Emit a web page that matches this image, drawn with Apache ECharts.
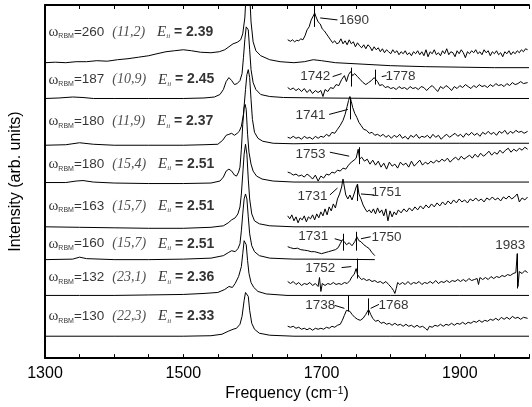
<!DOCTYPE html>
<html><head><meta charset="utf-8">
<script src="https://cdn.jsdelivr.net/npm/echarts@6/dist/echarts.min.js"></script>
<style>html,body{margin:0;padding:0;background:#fff}#c{width:532px;height:407px}</style>
</head><body><div id="c"></div>
<script>
// ---- data (intensity in arb. units, stacked with offset) ----
const majorTicks = [1300, 1500, 1700, 1900];
const rbm = [260, 187, 180, 180, 163, 160, 132, 130];
const chirality = ['(11,2)', '(10,9)', '(11,9)', '(15,4)', '(15,7)', '(15,7)', '(23,1)', '(22,3)'];
const eii = ['2.39', '2.45', '2.37', '2.51', '2.51', '2.51', '2.36', '2.33'];
const peakTexts = ['1690','1742','1778','1741','1753','1731','1751','1731','1750','1752','1983','1738','1768'];
const peakMarks = [1690, 1743, 1778, 1741, 1754, 1751, 1731, 1750, 1752, 1983, 1738, 1768];

const main260 = [[1300,297],[1315,297.5],[1330,297],[1345,298],[1360,298],[1375,299],[1390,298.5],[1405,300],[1420,301],[1435,302.5],[1450,304],[1462,306],[1475,308],[1487,309],[1500,310],[1512,309],[1525,307.5],[1540,307],[1552,308],[1560,310],[1566,313],[1572,316],[1578,317.5],[1583,320],[1586,326],[1589,342],[1592,380],[1595,380],[1598,338],[1601,318],[1605,309],[1612,304],[1625,300],[1640,298],[1660,297],[1675,298],[1688,300],[1700,299],[1720,297],[1760,295.5],[1800,294],[1850,293],[1900,292.5],[1950,292],[2000,292]];
const inset260 = [[1651,320],[1655,318.5],[1658,320],[1661,318],[1664,319.5],[1667,319],[1670,321],[1673,320],[1676,324],[1679,330],[1682,333],[1685,340],[1688,344],[1690,347],[1692,343],[1695,338],[1698,336],[1701,331],[1704,329],[1707,326],[1710,323],[1713,320],[1716,317],[1719,319],[1722,316],[1725,317],[1728,321],[1731,316],[1734,319],[1737,315],[1740,320],[1743,316],[1746,318],[1749,313],[1752,317],[1755,314],[1758,312],[1761,315],[1764,311],[1767,315],[1770,313],[1773,309],[1776,313],[1779,310],[1782,312],[1785,308],[1788,311],[1791,307],[1794,310],[1797,308],[1800,306],[1803,310],[1806,307],[1809,309],[1812,305],[1815,308],[1818,306],[1821,309],[1824,305],[1827,307],[1830,304],[1833,308],[1836,306],[1839,309],[1842,305],[1845,308],[1848,304],[1851,310],[1854,303],[1857,308],[1860,306],[1863,310],[1866,305],[1869,307],[1872,304],[1875,309],[1878,306],[1881,311],[1884,305],[1887,308],[1890,307],[1893,303],[1896,309],[1899,306],[1902,310],[1905,307],[1908,302],[1911,308],[1914,306],[1917,309],[1920,307],[1923,310],[1926,306],[1929,308],[1932,305],[1935,310],[1938,307],[1941,309],[1944,304],[1947,308],[1950,306],[1953,309],[1956,305],[1959,307],[1962,303],[1965,308],[1968,306],[1971,309],[1974,305],[1977,308],[1980,306],[1983,309],[1986,307],[1989,310],[1992,308],[1995,311],[1998,310]];

const main187 = [[1300,261],[1320,261.5],[1340,262.5],[1355,262],[1370,261],[1400,261],[1450,261],[1500,261],[1530,261.5],[1545,262.5],[1553,265],[1558,270],[1562,278],[1566,282],[1570,279],[1574,275],[1578,276],[1582,279],[1585,286],[1587,302],[1589,320],[1591,333],[1592.5,335],[1594,330],[1596,310],[1598,290],[1601,277],[1605,270],[1612,265],[1625,263],[1645,262],[1700,261.5],[1800,261],[1900,261],[2000,261]];
const inset187 = [[1651,272],[1655,270],[1659,271.5],[1663,269],[1667,271],[1671,268],[1675,271],[1679,267],[1683,270],[1687,266],[1691,269],[1695,267],[1699,269],[1702,263],[1705,270],[1709,268],[1713,272],[1717,271],[1721,275],[1725,274],[1729,280],[1733,284],[1736,278],[1739,285],[1742,288],[1745,284],[1748,286],[1752,283],[1756,280],[1760,277],[1764,275],[1768,277],[1772,279],[1776,282],[1778,284],[1781,278],[1784,274],[1788,275],[1792,272],[1796,273],[1800,271],[1804,272],[1808,270],[1812,273],[1816,271],[1820,272],[1824,270],[1828,273],[1832,271],[1836,272],[1840,270],[1844,273],[1848,272],[1852,269],[1856,272],[1860,274],[1864,271],[1868,268],[1872,273],[1876,271],[1880,274],[1884,272],[1888,269],[1892,273],[1896,271],[1900,274],[1904,272],[1908,275],[1912,273],[1916,271],[1920,274],[1924,272],[1928,275],[1932,273],[1936,274],[1940,272],[1944,275],[1948,273],[1952,276],[1956,274],[1960,275],[1964,273],[1968,276],[1972,274],[1976,277],[1980,275],[1984,276],[1988,278],[1992,276],[1998,277]];

const main180a = [[1300,214],[1330,214.5],[1350,216.5],[1370,215],[1400,214],[1450,214],[1500,214],[1530,214.5],[1550,215],[1557,219],[1562,224],[1566,225],[1570,226],[1574,224],[1578,226],[1581,228],[1584,233],[1587,245],[1590,270],[1592,285],[1594,290],[1596,282],[1598,260],[1600,240],[1603,227],[1608,221],[1615,218],[1630,216],[1660,215.5],[1700,216],[1800,216],[1900,216],[2000,216]];
const inset180a = [[1651,222],[1655,221],[1659,223],[1663,221],[1667,222],[1671,220],[1675,223],[1679,221],[1683,222],[1687,220],[1691,223],[1695,221],[1699,223],[1703,222],[1707,225],[1711,223],[1715,227],[1719,226],[1723,230],[1727,234],[1731,239],[1734,245],[1737,253],[1739,259],[1741,263],[1743,258],[1745,252],[1748,246],[1751,242],[1754,237],[1757,234],[1761,230],[1765,229],[1769,226],[1773,227],[1777,224],[1781,225],[1785,223],[1789,225],[1793,222],[1797,224],[1801,221],[1805,224],[1809,222],[1813,225],[1817,221],[1821,223],[1825,220],[1829,224],[1833,222],[1837,225],[1841,221],[1845,223],[1849,222],[1853,224],[1857,221],[1861,225],[1865,222],[1869,224],[1873,220],[1877,223],[1881,225],[1885,222],[1889,224],[1893,226],[1897,223],[1901,225],[1905,222],[1909,226],[1913,224],[1917,227],[1921,224],[1925,226],[1929,223],[1933,227],[1937,225],[1941,228],[1945,225],[1949,227],[1953,224],[1957,228],[1961,226],[1965,229],[1969,225],[1973,228],[1977,226],[1981,229],[1985,227],[1989,228],[1993,226],[1998,228]];

const main180b = [[1300,176.5],[1330,176.5],[1345,178],[1355,178.5],[1370,177],[1400,176],[1450,175.5],[1500,175.5],[1540,176],[1553,178],[1558,182],[1562,188],[1566,190],[1570,188],[1574,184],[1577,183],[1580,187],[1582,192],[1584,210],[1586,235],[1588,252],[1589.5,255],[1591,250],[1593,225],[1595,207],[1598,195],[1601,188],[1606,183],[1614,180],[1630,178],[1660,177],[1700,177],[1800,177],[1900,177],[2000,177]];
const inset180b = [[1651,187],[1655,186],[1659,184],[1663,185],[1667,183],[1671,184],[1675,182],[1679,185],[1683,183],[1687,180],[1691,184],[1695,178],[1699,183],[1703,181],[1707,185],[1711,184],[1715,187],[1719,186],[1723,189],[1727,188],[1731,191],[1735,190],[1739,194],[1743,197],[1747,199],[1750,201],[1753,210],[1755,200],[1758,202],[1762,198],[1766,200],[1770,195],[1774,199],[1778,194],[1782,198],[1786,192],[1790,196],[1794,190],[1798,197],[1802,193],[1806,195],[1810,191],[1814,197],[1818,194],[1822,196],[1826,192],[1830,198],[1834,193],[1838,196],[1842,199],[1846,194],[1850,197],[1854,195],[1858,198],[1862,196],[1866,199],[1870,197],[1874,200],[1878,198],[1882,201],[1886,197],[1890,200],[1894,202],[1898,199],[1902,203],[1906,200],[1910,202],[1914,204],[1918,201],[1922,205],[1926,202],[1930,206],[1934,203],[1938,205],[1942,208],[1946,204],[1950,207],[1954,205],[1958,209],[1962,206],[1966,209],[1970,211],[1974,207],[1978,210],[1982,208],[1986,211],[1990,209],[1994,212],[1998,210]];

const main163 = [[1300,132],[1350,131.5],[1400,131],[1450,130.5],[1500,130.5],[1540,131.5],[1558,133],[1565,136],[1570,139],[1575,141],[1579,145],[1582,152],[1584,165],[1586,185],[1588,205],[1590,215],[1592,205],[1594,180],[1596,160],[1599,145],[1603,138],[1610,135],[1625,133],[1660,132],[1700,132],[1800,132],[1900,132],[2000,132]];
const inset163 = [[1651,143],[1654,140],[1657,144],[1660,138],[1663,142],[1666,136],[1669,141],[1672,139],[1675,143],[1678,137],[1681,142],[1684,140],[1687,144],[1690,139],[1693,145],[1696,141],[1699,147],[1702,143],[1705,150],[1708,144],[1711,152],[1714,148],[1717,155],[1720,151],[1723,160],[1726,165],[1729,172],[1731,180],[1733,172],[1735,164],[1738,160],[1741,164],[1744,159],[1747,165],[1750,172],[1752,175],[1754,165],[1757,160],[1760,154],[1763,150],[1766,147],[1769,149],[1772,146],[1775,150],[1778,145],[1781,151],[1784,146],[1787,149],[1790,143],[1793,150],[1796,138],[1799,148],[1802,142],[1805,147],[1808,144],[1811,149],[1815,146],[1819,150],[1823,147],[1827,151],[1831,148],[1835,152],[1839,149],[1843,153],[1847,150],[1851,154],[1855,151],[1859,155],[1863,152],[1867,156],[1871,153],[1875,157],[1879,154],[1883,158],[1887,155],[1891,159],[1895,156],[1899,160],[1903,157],[1907,159],[1911,156],[1915,160],[1919,158],[1923,161],[1927,158],[1931,160],[1935,157],[1939,161],[1943,159],[1947,162],[1951,159],[1955,161],[1959,158],[1963,162],[1967,160],[1971,163],[1975,160],[1979,162],[1983,165],[1986,157],[1990,161],[1994,159],[1998,162]];

const main160 = [[1300,99],[1340,99.5],[1350,101.5],[1360,100],[1400,99],[1450,99],[1500,99.5],[1540,100.5],[1558,103],[1565,106],[1570,108],[1575,107],[1579,110],[1582,115],[1584,128],[1586,145],[1588,160],[1590,165],[1592,160],[1594,142],[1596,125],[1599,113],[1603,107],[1610,103],[1625,100.5],[1660,99.5],[1700,99.5],[1777,99]];
const inset160 = [[1651,112],[1655,111],[1660,110],[1665,110.5],[1670,109],[1675,108.5],[1680,108],[1685,107],[1690,107],[1695,106],[1700,105],[1705,106],[1710,107],[1715,108],[1720,109],[1724,111],[1727,115],[1730,119],[1733,117],[1736,114],[1740,116],[1744,113],[1748,117],[1751,122],[1754,118],[1757,117],[1761,114],[1765,112],[1769,110],[1773,106],[1777,103]];

const main132 = [[1300,63],[1350,63],[1400,63],[1450,63.5],[1500,64],[1530,65],[1550,66],[1560,69],[1566,72],[1571,71],[1575,75],[1580,82],[1584,92],[1586,105],[1588,118],[1589.5,120],[1591,114],[1593,98],[1595,85],[1598,76],[1602,71],[1608,67],[1620,64.5],[1650,63],[1700,63],[1800,63],[1900,63],[2000,63]];
const inset132 = [[1651,77],[1655,75],[1659,77],[1663,74],[1667,76],[1671,73],[1675,75],[1679,74],[1683,76],[1687,73],[1691,75],[1695,72],[1697,81],[1699,67],[1701,75],[1705,73],[1709,75],[1713,74],[1717,76],[1721,74],[1725,75],[1729,74],[1733,76],[1737,75],[1741,78],[1744,82],[1747,84],[1750,90],[1752,84],[1755,81],[1758,79],[1761,80],[1765,78],[1769,79],[1773,77],[1777,78],[1781,76],[1785,77],[1789,75],[1793,77],[1797,74],[1801,71],[1804,68],[1806,65],[1808,70],[1810,76],[1813,74],[1817,76],[1821,74],[1825,77],[1829,74],[1833,76],[1837,75],[1841,77],[1845,74],[1849,76],[1853,75],[1857,77],[1861,75],[1865,78],[1869,75],[1873,77],[1877,76],[1881,78],[1885,76],[1889,78],[1893,77],[1897,79],[1901,77],[1905,79],[1909,77],[1913,80],[1917,78],[1921,79],[1925,80],[1927,74],[1929,81],[1933,79],[1937,81],[1941,79],[1945,82],[1949,80],[1953,82],[1957,81],[1961,83],[1965,82],[1969,84],[1973,83],[1977,85],[1981,86],[1983,105],[1984,72],[1986,87],[1990,85],[1994,88],[1998,86]];

const main130 = [[1300,22],[1400,22],[1500,22],[1540,22.5],[1556,24],[1565,27],[1572,29],[1577,30],[1582,34],[1585,42],[1588,58],[1590,66],[1592,68],[1594,62],[1596,48],[1599,35],[1603,29],[1610,25],[1625,23],[1660,22],[1800,22],[2000,22]];
const inset130 = [[1651,32],[1655,31],[1659,32],[1663,30],[1667,31],[1671,29],[1675,30],[1679,28.5],[1683,30],[1687,28],[1691,30],[1695,29],[1699,30],[1703,29],[1707,31],[1711,30],[1715,32],[1719,31],[1723,33],[1727,34],[1730,38],[1733,43],[1736,48],[1738,50],[1741,47],[1744,44],[1748,41],[1752,39],[1756,38],[1760,40],[1764,44],[1768,49],[1771,44],[1774,40],[1778,37],[1782,38],[1786,35],[1790,36],[1794,34],[1798,35],[1802,33],[1806,35],[1810,33],[1814,34],[1818,32],[1822,34],[1826,32],[1830,33],[1834,31],[1838,33],[1842,31],[1846,32],[1850,30],[1853,28],[1856,32],[1860,31],[1864,33],[1868,32],[1872,34],[1876,32],[1880,34],[1884,33],[1888,35],[1892,33],[1896,35],[1900,34],[1904,36],[1908,34],[1912,36],[1916,35],[1920,37],[1924,36],[1928,38],[1932,36],[1936,38],[1940,37],[1944,39],[1948,38],[1952,40],[1956,38],[1960,41],[1964,39],[1968,41],[1972,39],[1976,42],[1980,40],[1984,41],[1988,39],[1992,41],[1998,40]];

// ---- layout of annotations (data coordinates) ----
const mains = [main260, main187, main180a, main180b, main163, main160, main132, main130];
const insets = [inset260, inset187, inset180a, inset180b, inset163, inset160, inset132, inset130];
const labelY = [328, 280, 238, 195, 153, 115, 81, 42];
const textPos = [[1747,340],[1691,283],[1814,283],[1684,244],[1684,205],[1687,163],[1794,167],[1688,122],[1794,121],[1698,90],[1973,113],[1698,53],[1804,53]];
const leaders = [
  [[1698,342],[1723,340]], [[1716,283],[1729,286]], [[1787,283],[1794,284]],
  [[1711,245],[1738,250]], [[1712,207],[1740,203]], [[1712,164],[1723,171]],
  [[1757,165],[1776,164]], [[1719,120],[1729,118]], [[1757,120],[1771,122]],
  [[1729,91],[1743,92]], [[1719,53],[1733,50]], [[1771,50],[1783,54]]
];
const markSpan = [[333,357],[273,292],[275,290],[240,262],[195,212],[158,175],[108,125],[108,127],[80,100],[70,105],[47,63],[43,60]];

const series = [];
const lineStyle = {color: '#000', width: 1};
mains.forEach(d => series.push({type: 'line', data: d, symbol: 'none', lineStyle, silent: true}));
insets.forEach(d => series.push({type: 'line', data: d, symbol: 'none', lineStyle, silent: true}));
const segs = leaders.map(s => ({coords: s}));
peakMarks.forEach((f, i) => segs.push({coords: [[f, markSpan[i][0]], [f, markSpan[i][1]]]}));
series.push({type: 'lines', coordinateSystem: 'cartesian2d', polyline: false, silent: true,
  lineStyle: {color: '#000', width: 1, opacity: 1, curveness: 0}, data: segs});
series.push({type: 'scatter', symbolSize: 0, silent: true,
  data: peakTexts.map((t, i) => ({name: t, value: textPos[i]})),
  label: {show: true, position: 'inside', formatter: '{b}', color: '#000', fontSize: 13.5, fontFamily: 'Liberation Sans'}});
series.push({type: 'scatter', symbolSize: 0, silent: true,
  data: rbm.map((r, i) => ({value: [1305, labelY[i]], name: String(i)})),
  label: {show: true, position: 'right', distance: 0,
    formatter: p => { const i = +p.name; return '{w|ω}{sub|RBM}{n|=' + rbm[i] + '}{c|' + chirality[i] + '}{e|E}{esub|ii}{b| = ' + eii[i] + '}'; },
    rich: {
      w: {fontFamily: 'Liberation Serif', fontSize: 15, color: '#000', lineHeight: 16},
      sub: {fontFamily: 'Liberation Sans', fontSize: 7, color: '#000', verticalAlign: 'bottom', lineHeight: 10},
      n: {fontFamily: 'Liberation Sans', fontSize: 13.5, color: '#000', lineHeight: 16},
      c: {fontFamily: 'Liberation Serif', fontStyle: 'italic', fontSize: 14, color: '#222', padding: [0, 0, 0, 8], lineHeight: 16},
      e: {fontFamily: 'Liberation Serif', fontStyle: 'italic', fontSize: 15, color: '#000', padding: [0, 0, 0, 12], lineHeight: 16},
      esub: {fontFamily: 'Liberation Serif', fontStyle: 'italic', fontSize: 7, color: '#000', verticalAlign: 'bottom', lineHeight: 10},
      b: {fontFamily: 'Liberation Sans', fontWeight: 'bold', fontSize: 14, color: '#000', lineHeight: 16}
    }}});

const xBase = {type: 'value', min: 1300, max: 2000, interval: 50,
  axisLine: {show: true, lineStyle: {color: '#000', width: 2}},
  axisTick: {show: true, inside: true, length: 4, lineStyle: {color: '#000', width: 1}},
  splitLine: {show: false}};
const option = {
  animation: false,
  backgroundColor: '#fff',
  grid: {left: 38, right: -2, top: 5, bottom: 47},
  xAxis: [
    Object.assign({}, xBase, {position: 'bottom',
      axisLabel: {formatter: v => majorTicks.includes(v) ? String(v) : '', fontSize: 16, color: '#000', margin: 7, fontFamily: 'Liberation Sans'},
      name: 'Frequency (cm{sup|−1})', nameLocation: 'middle', nameGap: 25,
      nameTextStyle: {fontSize: 16, color: '#000', fontFamily: 'Liberation Sans',
        rich: {sup: {fontSize: 10, fontFamily: 'Liberation Sans', color: '#000', verticalAlign: 'top', lineHeight: 10}}}}),
    Object.assign({}, xBase, {position: 'top', axisLabel: {show: false}})
  ],
  yAxis: {type: 'value', min: 0, max: 355,
    axisLine: {show: true, lineStyle: {color: '#000', width: 2}},
    axisTick: {show: false}, axisLabel: {show: false}, splitLine: {show: false},
    name: 'Intensity (arb. units)', nameLocation: 'middle', nameGap: 21,
    nameTextStyle: {fontSize: 16, color: '#000', fontFamily: 'Liberation Sans'}},
  series
};
echarts.init(document.getElementById('c')).setOption(option);
</script></body></html>
